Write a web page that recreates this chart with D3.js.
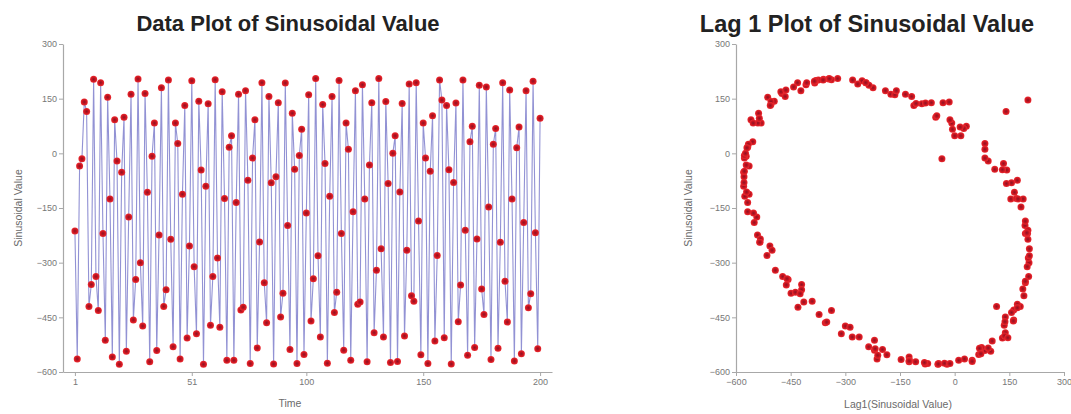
<!DOCTYPE html>
<html>
<head>
<meta charset="utf-8">
<script src="https://cdn.jsdelivr.net/npm/d3@7"></script>
<style>
  body { margin: 0; background: #fff; }
  text { font-family: "Liberation Sans", Arial, sans-serif; }
</style>
</head>
<body>
<svg id="chart" width="1071" height="414"></svg>
<script>
// Sinusoidal deflection series, 200 observations in time order
const sinusoidalValue = [
  -213, -564, -35, -15, 141, 115, -420, -360, 203, -338,
  -431, 194, -220, -513, 154, -125, -559, 92, -21, -579,
  -52, 99, -543, -175, 162, -457, -346, 204, -300, -474,
  164, -107, -572, -8, 83, -541, -224, 180, -420, -374,
  201, -236, -531, 83, 27, -564, -112, 131, -507, -254,
  199, -311, -495, 143, -46, -579, -90, 136, -472, -338,
  202, -287, -477, 169, -124, -568, 17, 48, -568, -135,
  162, -430, -422, 172, -74, -577, -13, 92, -534, -243,
  194, -355, -465, 156, -81, -578, -64, 139, -449, -384,
  193, -198, -538, 110, -44, -577, -6, 66, -552, -164,
  161, -460, -344, 205, -281, -504, 134, -28, -576, -118,
  156, -437, -381, 200, -220, -540, 83, 11, -568, -160,
  172, -414, -408, 188, -125, -572, -32, 139, -492, -321,
  205, -262, -504, 142, -83, -574, 0, 48, -571, -106,
  137, -501, -266, 190, -391, -406, 194, -186, -553, 83,
  -13, -577, -49, 103, -515, -280, 201, 146, -506, 131,
  -45, -578, -80, 138, -462, -361, 201, -211, -554, 32,
  74, -533, -235, 187, -372, -442, 182, -147, -566, 25,
  68, -535, -244, 194, -351, -463, 174, -125, -570, 15,
  72, -550, -190, 172, -424, -385, 198, -218, -536, 96
];

// Axis tick values and labels
const timeTicks = [1, 51, 100, 150, 200];
const valueTicks = [-600, -450, -300, -150, 0, 150, 300];
const lagTicks = [-600, -450, -300, -150, 0, 150, 300];

// Titles and axis captions
const titles = ["Data Plot of Sinusoidal Value", "Lag 1 Plot of Sinusoidal Value"];
const axisCaptions = ["Time", "Sinusoidal Value", "Lag1(Sinusoidal Value)"];

const svg = d3.select("#chart");

// Dot shading: darker core fading to bright red rim
const defs = svg.append("defs");
const grad = defs.append("radialGradient").attr("id", "dotFill");
grad.append("stop").attr("offset", "0%").attr("stop-color", "#8a1226");
grad.append("stop").attr("offset", "50%").attr("stop-color", "#c4141f");
grad.append("stop").attr("offset", "100%").attr("stop-color", "#ec2a30");

function styleAxis(g) {
  g.select(".domain").attr("stroke", "#a8a8a8").attr("stroke-width", 1.2);
  g.selectAll(".tick line").attr("stroke", "#a8a8a8");
  g.selectAll(".tick text")
    .attr("fill", "#777")
    .style("font-size", "9px");
}

// ---------- Left: run-sequence plot ----------
const timeIndex = d3.range(1, sinusoidalValue.length + 1);

const xTime = d3.scaleLinear().domain([-4.1, 205.1]).range([63, 552]);
const yVal = d3.scaleLinear().domain([-600, 300]).range([372, 44]);

const left = svg.append("g");

left.append("path")
  .datum(timeIndex)
  .attr("fill", "none")
  .attr("stroke", "#6e6ec6")
  .attr("stroke-width", 1.1)
  .attr("stroke-opacity", 0.75)
  .attr("d", d3.line()
    .x(i => xTime(i))
    .y(i => yVal(sinusoidalValue[i - 1])));

left.selectAll("circle")
  .data(timeIndex)
  .join("circle")
  .attr("cx", i => xTime(i))
  .attr("cy", i => yVal(sinusoidalValue[i - 1]))
  .attr("r", 3.5)
  .attr("fill", "url(#dotFill)");

left.append("g")
  .attr("transform", "translate(0,372)")
  .call(d3.axisBottom(xTime).tickValues(timeTicks).tickFormat(d3.format("d"))
    .tickSize(4).tickSizeOuter(0).tickPadding(3))
  .call(styleAxis);

left.append("g")
  .attr("transform", "translate(63,0)")
  .call(d3.axisLeft(yVal).tickValues(valueTicks).tickFormat(d3.format("d"))
    .tickSize(4).tickSizeOuter(0).tickPadding(2))
  .call(styleAxis);

left.append("text")
  .attr("x", 288).attr("y", 31)
  .attr("text-anchor", "middle")
  .attr("fill", "#222")
  .style("font-size", "22px").style("font-weight", "bold")
  .text(titles[0]);

left.append("text")
  .attr("x", 290).attr("y", 407)
  .attr("text-anchor", "middle")
  .attr("fill", "#6a6a6a")
  .style("font-size", "10.5px")
  .text(axisCaptions[0]);

left.append("text")
  .attr("transform", "translate(22,208) rotate(-90)")
  .attr("text-anchor", "middle")
  .attr("fill", "#6a6a6a")
  .style("font-size", "10.5px")
  .text(axisCaptions[1]);

// ---------- Right: lag-1 scatter ----------
const lagPairs = d3.range(1, sinusoidalValue.length)
  .map(i => [sinusoidalValue[i - 1], sinusoidalValue[i]]);

const xLag = d3.scaleLinear().domain([-600, 300]).range([736, 1064]);
const yLag = d3.scaleLinear().domain([-600, 300]).range([372, 44]);

const right = svg.append("g");

right.selectAll("circle")
  .data(lagPairs)
  .join("circle")
  .attr("cx", d => xLag(d[0]))
  .attr("cy", d => yLag(d[1]))
  .attr("r", 3.5)
  .attr("fill", "url(#dotFill)");

right.append("g")
  .attr("transform", "translate(0,372)")
  .call(d3.axisBottom(xLag).tickValues(lagTicks).tickFormat(d3.format("d"))
    .tickSize(4).tickSizeOuter(0).tickPadding(3))
  .call(styleAxis);

right.append("g")
  .attr("transform", "translate(736,0)")
  .call(d3.axisLeft(yLag).tickValues(valueTicks).tickFormat(d3.format("d"))
    .tickSize(4).tickSizeOuter(0).tickPadding(2))
  .call(styleAxis);

right.append("text")
  .attr("x", 867).attr("y", 32)
  .attr("text-anchor", "middle")
  .attr("fill", "#222")
  .style("font-size", "23.5px").style("font-weight", "bold")
  .text(titles[1]);

right.append("text")
  .attr("x", 898).attr("y", 408)
  .attr("text-anchor", "middle")
  .attr("fill", "#6a6a6a")
  .style("font-size", "10.5px")
  .text(axisCaptions[2]);

right.append("text")
  .attr("transform", "translate(692,208) rotate(-90)")
  .attr("text-anchor", "middle")
  .attr("fill", "#6a6a6a")
  .style("font-size", "10.5px")
  .text(axisCaptions[1]);
</script>
</body>
</html>
